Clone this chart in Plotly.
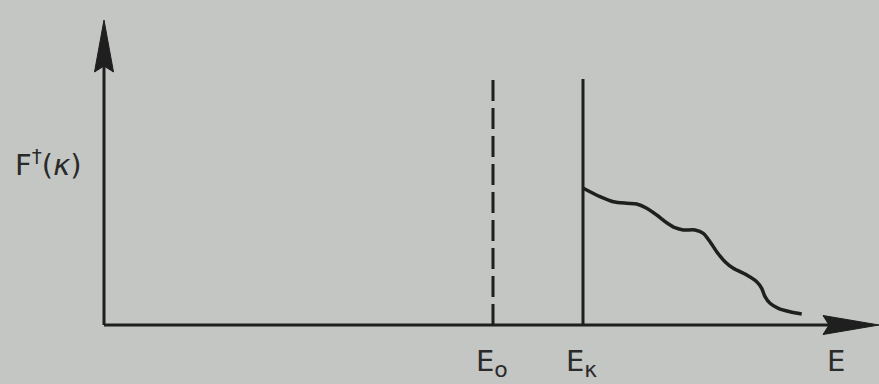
import plotly.graph_objects as go

# Energy axis (E) and amplitude axis F†(κ), arbitrary units
E_MIN, E_MAX = -1.04, 7.75        # visible energy window
F_MIN, F_MAX = -0.59, 3.25        # visible amplitude window
F_AXIS_TOP = 3.05                 # tip of the vertical arrow

E_0 = 3.89                        # threshold marked with a dashed line
E_KAPPA = 4.79                    # edge where the distribution starts
MARKER_TOP = 2.46                 # height of the two vertical markers

# Distribution F†(κ) above the edge E_κ
curve_E = [4.793, 4.96, 5.093, 5.227, 5.327, 5.427, 5.527, 5.627, 5.71, 5.793,
           5.91, 5.993, 6.06, 6.127, 6.21, 6.293, 6.427, 6.527, 6.577, 6.61,
           6.66, 6.743, 6.86, 6.977]
curve_F = [1.367, 1.283, 1.233, 1.217, 1.21, 1.167, 1.10, 1.023, 0.973, 0.95,
           0.95, 0.917, 0.833, 0.733, 0.633, 0.567, 0.50, 0.433, 0.367, 0.283,
           0.217, 0.167, 0.133, 0.11]

INK = "#1f1f1f"
PAPER = "#c3c6c2"

fig = go.Figure()

# Axes
fig.add_trace(go.Scatter(x=[0, E_MAX - 0.3], y=[0, 0], mode="lines",
                         line=dict(color=INK, width=3), hoverinfo="skip"))
fig.add_trace(go.Scatter(x=[0, 0], y=[0, F_AXIS_TOP - 0.3], mode="lines",
                         line=dict(color=INK, width=3), hoverinfo="skip"))

# Arrowheads (filled, with a slightly notched back)
ah_len, ah_half, ah_notch = 0.56, 0.095, 0.06
fig.add_shape(type="path",
              path=(f"M {E_MAX},0 L {E_MAX-ah_len},{ah_half} "
                    f"L {E_MAX-ah_len+ah_notch},0 L {E_MAX-ah_len},{-ah_half} Z"),
              fillcolor=INK, line=dict(color=INK, width=1))
v_len = 0.52
fig.add_shape(type="path",
              path=(f"M 0,{F_AXIS_TOP} L {ah_half},{F_AXIS_TOP-v_len} "
                    f"L 0,{F_AXIS_TOP-v_len+ah_notch} L {-ah_half},{F_AXIS_TOP-v_len} Z"),
              fillcolor=INK, line=dict(color=INK, width=1))

# Dashed marker at E_0 and solid marker at E_κ
fig.add_trace(go.Scatter(x=[E_0, E_0], y=[0, MARKER_TOP], mode="lines",
                         line=dict(color=INK, width=3, dash="21px,7px"),
                         hoverinfo="skip"))
fig.add_trace(go.Scatter(x=[E_KAPPA, E_KAPPA], y=[0, MARKER_TOP], mode="lines",
                         line=dict(color=INK, width=3), hoverinfo="skip"))

# The distribution itself
fig.add_trace(go.Scatter(x=curve_E, y=curve_F, mode="lines",
                         line=dict(color=INK, width=3.5, shape="spline", smoothing=0.8),
                         hoverinfo="skip"))

label_font = dict(family="DejaVu Sans", size=29, color="#2a2a2a")
sub_style = "<sub><span style='font-size:22px'>{}</span></sub>"
fig.add_annotation(x=-0.56, y=1.62, text="F<sup>†</sup>(<i>κ</i>)",
                   showarrow=False, font=label_font)
fig.add_annotation(x=E_0 - 0.19, y=-0.17, text="E" + sub_style.format("o"),
                   xanchor="left", yanchor="top", showarrow=False, font=label_font)
fig.add_annotation(x=E_KAPPA - 0.19, y=-0.17, text="E" + sub_style.format("κ"),
                   xanchor="left", yanchor="top", showarrow=False, font=label_font)
fig.add_annotation(x=7.21, y=-0.17, text="E", xanchor="left", yanchor="top",
                   showarrow=False, font=label_font)

fig.update_layout(
    width=879, height=384,
    margin=dict(l=0, r=0, t=0, b=0),
    paper_bgcolor=PAPER, plot_bgcolor=PAPER,
    showlegend=False,
    xaxis=dict(range=[E_MIN, E_MAX], visible=False, fixedrange=True),
    yaxis=dict(range=[F_MIN, F_MAX], visible=False, fixedrange=True),
)

fig.write_html("out.html")
